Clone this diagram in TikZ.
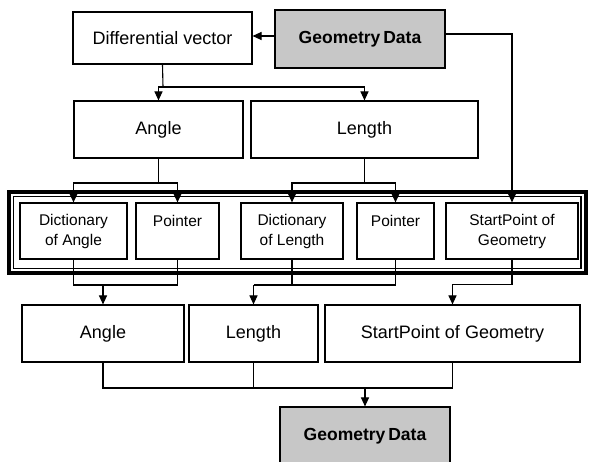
\documentclass[tikz,border=0pt]{standalone}
\usepackage{fontspec}
\setmainfont{Liberation Sans}
\usetikzlibrary{arrows.meta}
\begin{document}
\begin{tikzpicture}[x=1pt,y=-1pt,
  box/.style={draw=black,line width=1.1pt,fill=white,inner sep=0pt,align=center,font=\fontsize{18}{20}\selectfont},
  smallbox/.style={box,font=\fontsize{15.5}{20}\selectfont},
  gdbox/.style={box,fill=black!22,font=\fontsize{17.5}{20}\selectfont\bfseries},
  conn/.style={line width=1.1pt},
  arr/.style={conn,-{Triangle[length=9pt,width=8pt]}}]
\clip (0,0) rectangle (590,462);
\useasboundingbox (0,0) rectangle (590,462);
\fill[white] (0,0) rectangle (590,462);
% frame
\draw[line width=4pt] (9.2,192.2) rectangle (585.5,273);
\draw[line width=1.1pt] (13.5,196.5) rectangle (581,268.5);
% row 0
\node[box,minimum width=179,minimum height=52] (dv) at (162.5,38) {Differential vector};
\node[gdbox,minimum width=170,minimum height=58] (gd1) at (360,39) {Geometry\,Data};
% row 1
\node[box,minimum width=169,minimum height=57] (ang1) at (158.5,129.5) {Angle};
\node[box,minimum width=227,minimum height=57] (len1) at (364.5,129.5) {Length};
% row 2
\node[smallbox,minimum width=107,minimum height=56] (dA) at (73.5,231) {Dictionary\\of Angle};
\node[smallbox,minimum width=83,minimum height=56] (p1) at (177.5,231) {Pointer\\\mbox{}};
\node[smallbox,minimum width=102,minimum height=56] (dL) at (292,231) {Dictionary\\of Length};
\node[smallbox,minimum width=77,minimum height=56] (p2) at (395.5,231) {Pointer\\\mbox{}};
\node[smallbox,minimum width=132,minimum height=56] (sp1) at (512,231) {StartPoint of\\Geometry};
% row 3
\node[box,minimum width=162,minimum height=57] (ang2) at (103,333.5) {Angle};
\node[box,minimum width=129,minimum height=57] (len2) at (253.5,333.5) {Length};
\node[box,minimum width=255,minimum height=57] (sp2) at (452.5,333.5) {StartPoint of Geometry};
% row 4
\node[gdbox,minimum width=170,minimum height=58] (gd2) at (365,436) {Geometry\,Data};
% junctions
\coordinate (j1) at (163,87);
\coordinate (j2) at (158.5,183);
\coordinate (j2b) at (364.5,183);
\coordinate (j3) at (103,285);
\coordinate (j4) at (253.5,285);
\coordinate (j5) at (365,388);
% connectors
\draw[arr] (gd1.west |- 0,36) -- (dv.east |- 0,36);
\draw[arr] (gd1.east |- 0,34) -| (sp1.north);
\draw[conn] (dv.south) -- (j1);
\draw[arr] (j1) -| (ang1.north);
\draw[arr] (j1) -| (len1.north);
\draw[conn] (ang1.south) -- (j2);
\draw[arr] (j2) -| (dA.north);
\draw[arr] (j2) -| (p1.north);
\draw[conn] (len1.south) -- (j2b);
\draw[arr] (j2b) -| (dL.north);
\draw[arr] (j2b) -| (p2.north);
\draw[conn] (dA.south) |- (j3);
\draw[conn] (p1.south) |- (j3);
\draw[arr] (j3) -- (ang2.north);
\draw[conn] (dL.south) |- (j4);
\draw[conn] (p2.south) |- (j4);
\draw[arr] (j4) -- (len2.north);
\draw[arr] (sp1.south) -- ++(0,25) -| (sp2.north);
\draw[conn] (ang2.south) |- (j5);
\draw[conn] (sp2.south) |- (j5);
\draw[conn] (len2.south) -- (len2.south |- j5);
\draw[arr] (j5) -- (gd2.north);
\end{tikzpicture}
\end{document}
